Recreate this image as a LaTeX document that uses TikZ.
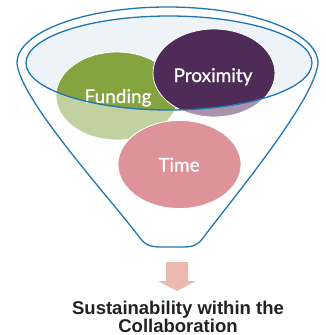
\documentclass[tikz,border=0pt]{standalone}
\usepackage{fontspec}
\setmainfont{Liberation Sans}
\newfontfamily\bubblefont[FakeBold=0.7]{Lato}
\usepackage{tikz}
\usetikzlibrary{positioning, shapes.geometric}

\definecolor{funnelblue}{RGB}{30,118,178}
\definecolor{rimfill}{RGB}{238,243,248}
\definecolor{funddark}{RGB}{132,164,64}
\definecolor{fundlight}{RGB}{193,210,160}
\definecolor{proxdark}{RGB}{79,43,88}
\definecolor{proxlight}{RGB}{168,149,172}
\definecolor{timefill}{RGB}{222,146,153}
\definecolor{arrowfill}{RGB}{235,185,175}
\definecolor{captiontext}{RGB}{34,34,34}

\tikzset{
  bubble/.style={ellipse, draw=white, line width=0.8pt, minimum width=122pt, minimum height=88pt, inner sep=0pt},
  bubbletext/.style={anchor=base, text=white, font=\bubblefont\fontsize{19}{20}\selectfont},
  funnelline/.style={draw=funnelblue, line width=1.3pt}
}

\begin{document}
\begin{tikzpicture}[x=1pt, y=-1pt]
\useasboundingbox (0,0) rectangle (325,335);

% rim of the funnel
\coordinate (rim) at (169,63);
\fill[rimfill] (rim) ellipse [x radius=143pt, y radius=47pt];

% bubbles, faded below the rim
\node[bubble, fill=fundlight] (funding) at (117,96) {};
\node[bubble, fill=proxlight] (proximity) at (214,73) {};
\node[bubble, fill=timefill, minimum width=123pt] (time) at (179.5,164.5) {};

% bubbles, full colour inside the rim
\begin{scope}
  \clip (rim) ellipse [x radius=143pt, y radius=47pt];
  \node[bubble, fill=funddark] (funding-in) at (funding) {};
  \node[bubble, fill=proxdark] (proximity-in) at (proximity) {};
\end{scope}

\node[bubbletext] (funding-txt) at (118,103) {Funding};
\node[bubbletext] (proximity-txt) at (213,82) {Proximity};
\node[bubbletext] (time-txt) at (179,171.5) {Time};

% funnel
\draw[funnelline] (rim) ellipse [x radius=143pt, y radius=47pt];
\draw[funnelline] (17,63) arc [start angle=180, end angle=0, x radius=150.5pt, y radius=56pt]
  .. controls (315,100) and (233,198) .. (203,238)
  .. controls (197,246) and (192,247) .. (182,247) -- (162,247)
  .. controls (152,247) and (146,246) .. (140,238)
  .. controls (110,198) and (20,100) .. (17,63) -- cycle;

% arrow and result
\fill[arrowfill] (166,262) -- (188,262) -- (188,281) -- (196,281) -- (177,291)
  -- (158,281) -- (166,281) -- cycle;
\node[anchor=base, align=center, inner sep=0pt, text=captiontext, font=\bfseries\fontsize{18.5}{18}\selectfont] (result) at (178,332)
  {Sustainability within the\\Collaboration};
\end{tikzpicture}
\end{document}
